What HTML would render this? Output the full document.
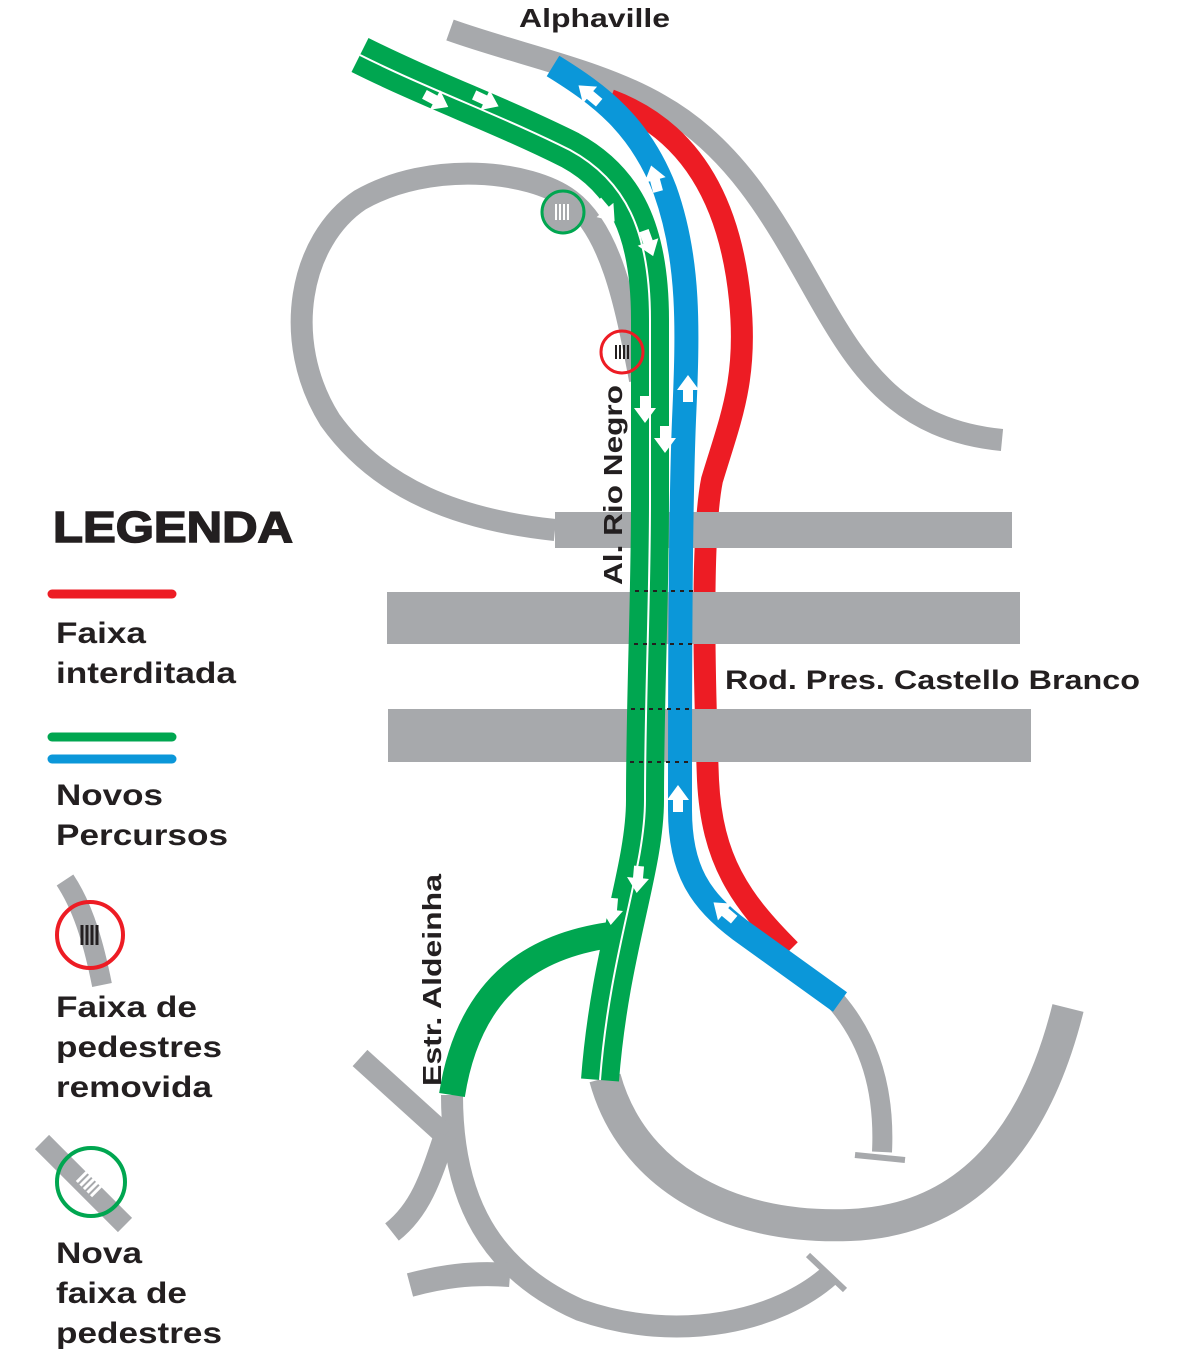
<!DOCTYPE html>
<html><head><meta charset="utf-8"><style>
html,body{margin:0;padding:0;background:#fff;}
svg{display:block}
text{font-family:"Liberation Sans",Arial,sans-serif;font-weight:bold;fill:#231f20}
</style></head><body>
<svg width="1200" height="1356" viewBox="0 0 1200 1356" xmlns="http://www.w3.org/2000/svg">
<defs>
 <path id="ar" d="M0,-15 L11,0 L5,0 L5,12 L-5,12 L-5,0 L-11,0Z" fill="#fff"/>
</defs>
<g fill="none" stroke="#a7a9ac" stroke-linecap="butt">
 <path d="M450 30 C520 55 600 70 660 105 C740 150 780 230 820 300 C860 370 900 430 1002 440" stroke-width="22"/>
 <path d="M555 530 C460 520 380 490 330 420 C280 340 300 240 360 200 C430 160 530 170 570 200 C610 230 625 300 640 380" stroke-width="22"/>
 <path d="M605 1078 C630 1170 720 1230 850 1225 C980 1220 1040 1120 1068 1008" stroke-width="32"/>
 <path d="M835 1000 C870 1040 885 1090 882 1152" stroke-width="20"/>
 <path d="M855 1155 L905 1160" stroke-width="6"/>
 <path d="M452 1095 C452 1200 490 1270 580 1310 C680 1345 780 1320 830 1275" stroke-width="22"/>
 <path d="M808 1255 L845 1290" stroke-width="6"/>
 <path d="M360 1058 L445 1135" stroke-width="22"/>
 <path d="M445 1135 C430 1180 420 1210 392 1232" stroke-width="22"/>
 <path d="M410 1285 C440 1277 470 1272 510 1275" stroke-width="24"/>
</g>
<path d="M610 100 C690 130 730 200 740 300 C748 380 730 420 712 480 C700 540 705 700 708 780 C712 860 740 900 790 950" fill="none" stroke="#ed1c24" stroke-width="22"/>
<g fill="#a7a9ac">
 <rect x="555" y="512" width="457" height="36"/>
 <rect x="387" y="592" width="633" height="52"/>
 <rect x="388" y="709" width="643" height="53"/>
</g>
<g fill="none" stroke="#00a650">
 <path d="M360 55 C430 90 500 115 570 150 C625 180 650 230 650 320 L650 500 C650 600 645 700 645 800 C645 870 610 950 600 1080" stroke-width="38"/>
 <path d="M610 935 C540 945 470 980 452 1095" stroke-width="26"/>
</g>
<path d="M360 55 C430 90 500 115 570 150 C625 180 650 230 650 320 L650 500 C650 600 645 700 645 800 C645 870 610 950 600 1080" fill="none" stroke="#fff" stroke-width="2"/>
<path d="M553 66 C600 95 640 125 665 190 C690 260 688 330 684 420 C680 520 680 700 680 810 C680 870 700 900 740 930 L840 1002" fill="none" stroke="#0b97d9" stroke-width="24"/>
<g stroke="#231f20" stroke-width="2" stroke-dasharray="4 5">
 <path d="M635 591H693M634 644H692M631 709H690M630 762H688"/>
</g>
<!-- arrows -->
<use href="#ar" transform="translate(590 95) rotate(-50)"/>
<use href="#ar" transform="translate(655 180) rotate(-15)"/>
<use href="#ar" transform="translate(688 390)"/>
<use href="#ar" transform="translate(678 800)"/>
<use href="#ar" transform="translate(725 912) rotate(-50)"/>
<use href="#ar" transform="translate(645 408) rotate(180)"/>
<use href="#ar" transform="translate(665 438) rotate(180)"/>
<use href="#ar" transform="translate(638 878) rotate(185)"/>
<use href="#ar" transform="translate(612 910) rotate(185)"/>
<use href="#ar" transform="translate(435 100) rotate(118)"/>
<use href="#ar" transform="translate(485 100) rotate(115)"/>
<use href="#ar" transform="translate(605 210) rotate(140)"/>
<use href="#ar" transform="translate(648 242) rotate(160)"/>
<circle cx="563" cy="212" r="21" fill="#a7a9ac" stroke="#00a650" stroke-width="3"/>
<g stroke="#fff" stroke-width="2"><path d="M556 204v16M560 204v16M564 204v16M568 204v16"/></g>
<circle cx="622" cy="352" r="21" fill="none" stroke="#ed1c24" stroke-width="3"/>
<g stroke="#231f20" stroke-width="2"><path d="M616 345v14M620 345v14M624 345v14M628 345v14"/></g>
<text x="519" y="27" font-size="26" textLength="151" lengthAdjust="spacingAndGlyphs">Alphaville</text>
<text x="725" y="689" font-size="27" textLength="415" lengthAdjust="spacingAndGlyphs">Rod. Pres. Castello Branco</text>
<text transform="translate(622 585) rotate(-90)" font-size="26" textLength="200" lengthAdjust="spacingAndGlyphs">Al. Rio Negro</text>
<text transform="translate(441 1086) rotate(-90)" font-size="26" textLength="212" lengthAdjust="spacingAndGlyphs">Estr. Aldeinha</text>
<text x="53" y="542" font-size="44" textLength="240" lengthAdjust="spacingAndGlyphs" stroke="#231f20" stroke-width="1.5">LEGENDA</text>
<line x1="52" y1="594" x2="172" y2="594" stroke="#ed1c24" stroke-width="9" stroke-linecap="round"/>
<text x="56" y="643" font-size="30" textLength="90" lengthAdjust="spacingAndGlyphs">Faixa</text>
<text x="56" y="683" font-size="30" textLength="180" lengthAdjust="spacingAndGlyphs">interditada</text>
<line x1="52" y1="737" x2="172" y2="737" stroke="#00a650" stroke-width="9" stroke-linecap="round"/>
<line x1="52" y1="759" x2="172" y2="759" stroke="#0b97d9" stroke-width="9" stroke-linecap="round"/>
<text x="56" y="805" font-size="30" textLength="107" lengthAdjust="spacingAndGlyphs">Novos</text>
<text x="56" y="845" font-size="30" textLength="172" lengthAdjust="spacingAndGlyphs">Percursos</text>
<path d="M65 880 C85 910 95 950 102 985" fill="none" stroke="#a7a9ac" stroke-width="20"/>
<circle cx="90" cy="935" r="33" fill="none" stroke="#ed1c24" stroke-width="4"/>
<g stroke="#231f20" stroke-width="3"><path d="M82 925v20M87 925v20M92 925v20M97 925v20"/></g>
<text x="56" y="1017" font-size="30" textLength="141" lengthAdjust="spacingAndGlyphs">Faixa de</text>
<text x="56" y="1057" font-size="30" textLength="166" lengthAdjust="spacingAndGlyphs">pedestres</text>
<text x="56" y="1097" font-size="30" textLength="156" lengthAdjust="spacingAndGlyphs">removida</text>
<path d="M42 1142 C70 1170 100 1200 125 1225" fill="none" stroke="#a7a9ac" stroke-width="20"/>
<circle cx="91" cy="1182" r="34" fill="none" stroke="#00a650" stroke-width="4"/>
<g stroke="#fff" stroke-width="3" transform="rotate(45 91 1182)"><path d="M81 1172v20M86 1172v20M91 1172v20M96 1172v20M101 1172v20"/></g>
<text x="56" y="1263" font-size="30" textLength="86" lengthAdjust="spacingAndGlyphs">Nova</text>
<text x="56" y="1303" font-size="30" textLength="131" lengthAdjust="spacingAndGlyphs">faixa de</text>
<text x="56" y="1343" font-size="30" textLength="166" lengthAdjust="spacingAndGlyphs">pedestres</text>
</svg>
</body></html>
